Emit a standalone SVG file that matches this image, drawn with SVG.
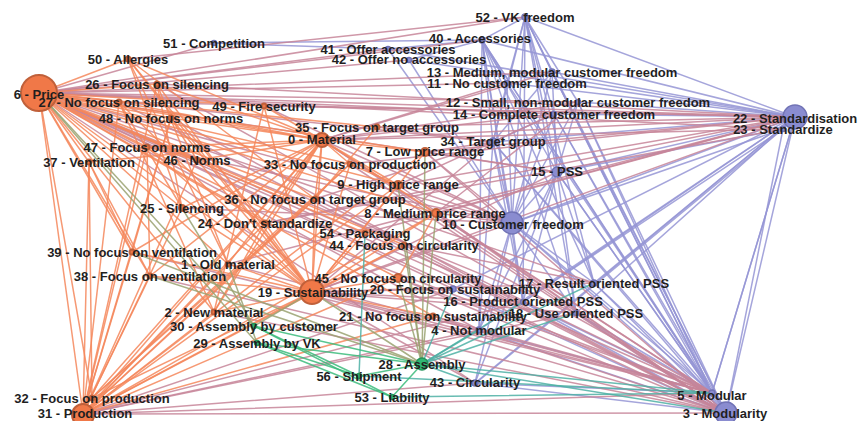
<svg xmlns="http://www.w3.org/2000/svg" width="862" height="421" viewBox="0 0 862 421">
<style>
.bg{fill:#ffffff}
#edges path{fill:none;stroke-width:1.5;stroke-linecap:round;stroke-opacity:0.85}
.o path{stroke:#f5875c}
.m path{stroke:#c78599}
.p path{stroke:#9595d5}
.t path{stroke:#4db0a4}
.g path{stroke:#3bbb7b}
.v path{stroke:#9aa271}
.no{fill:#f07848;stroke:#c0603a;stroke-width:2}
.np{fill:#8a8cd0;stroke:#7173b5;stroke-width:1.5}
.ng{fill:#30b873;stroke:#24935a;stroke-width:1.5}
text{font-family:"Liberation Sans",Arial,sans-serif;font-size:13px;font-weight:bold;fill:#1f1f1f;text-anchor:middle}
</style>
<rect class="bg" x="0" y="0" width="862" height="421"/>
<g id="edges">
<!-- purple-purple links -->
<g class="p">
<path d="M795 117L552 72"/><path d="M795 117L507 83"/><path d="M795 117L578 102"/><path d="M795 117L554 114"/><path d="M795 117L557 172"/><path d="M795 117L493 142"/><path d="M795 117L512 223"/><path d="M795 117L523 302"/><path d="M795 117L594 283"/><path d="M795 117L576 313"/><path d="M795 117L479 330"/><path d="M795 117L475 383"/><path d="M795 117L453 289"/><path d="M795 117L482 40"/><path d="M795 117L525 17"/><path d="M795 117L409 60"/><path d="M795 117L712 393"/><path d="M795 117L726 413"/><path d="M795 117L783 129"/><path d="M795 117L388 49"/>
<path d="M783 129L726 413"/><path d="M783 129L557 172"/><path d="M783 129L512 223"/><path d="M783 129L476 383"/><path d="M783 129L523 302"/>
<path d="M726 413L512 223"/><path d="M726 413L557 172"/><path d="M726 413L493 142"/><path d="M726 413L554 114"/><path d="M726 413L578 102"/><path d="M726 413L552 72"/><path d="M726 413L507 83"/><path d="M726 413L525 17"/><path d="M726 413L482 40"/><path d="M726 413L523 302"/><path d="M726 413L594 283"/><path d="M726 413L576 313"/><path d="M726 413L479 330"/><path d="M726 413L475 383"/><path d="M726 413L453 289"/>
<path d="M712 393L795 117"/><path d="M712 393L512 223"/><path d="M712 393L557 172"/><path d="M712 393L493 142"/><path d="M712 393L554 114"/><path d="M712 393L578 102"/><path d="M712 393L525 17"/><path d="M712 393L482 40"/><path d="M712 393L523 302"/><path d="M712 393L594 283"/><path d="M712 393L576 313"/><path d="M712 393L479 330"/><path d="M712 393L475 383"/><path d="M712 393L552 72"/>
<path d="M512 223L525 17"/><path d="M512 223L482 40"/><path d="M512 223L552 72"/><path d="M512 223L507 83"/><path d="M512 223L578 102"/><path d="M512 223L554 114"/><path d="M512 223L557 172"/><path d="M512 223L493 142"/><path d="M512 223L523 302"/><path d="M512 223L594 283"/><path d="M512 223L576 313"/><path d="M512 223L479 330"/><path d="M512 223L475 383"/><path d="M512 223L388 49"/><path d="M512 223L409 60"/>
<path d="M525 17L482 40"/><path d="M525 17L552 72"/><path d="M525 17L507 83"/><path d="M525 17L578 102"/><path d="M525 17L554 114"/><path d="M525 17L557 172"/><path d="M525 17L523 302"/><path d="M525 17L594 283"/><path d="M525 17L576 313"/><path d="M525 17L493 142"/>
<path d="M482 40L388 49"/><path d="M482 40L409 60"/><path d="M482 40L493 142"/><path d="M482 40L557 172"/><path d="M482 40L523 302"/><path d="M482 40L594 283"/><path d="M482 40L576 313"/><path d="M482 40L479 330"/><path d="M482 40L507 83"/>
<path d="M557 172L552 72"/><path d="M557 172L578 102"/><path d="M557 172L523 302"/><path d="M557 172L594 283"/><path d="M557 172L576 313"/><path d="M557 172L479 330"/><path d="M557 172L475 383"/><path d="M557 172L554 114"/>
<path d="M493 142L552 72"/><path d="M493 142L507 83"/><path d="M493 142L554 114"/><path d="M493 142L523 302"/><path d="M493 142L479 330"/>
<path d="M214 43L388 49"/><path d="M214 43L482 40"/>
</g>
<!-- orange-purple links -->
<g class="m">
<path d="M39 93L795 117"/><path d="M39 93L783 129"/><path d="M39 93L552 72"/><path d="M39 93L507 83"/><path d="M39 93L578 102"/><path d="M39 93L554 114"/><path d="M39 93L482 40"/><path d="M39 93L388 49"/><path d="M39 93L409 60"/><path d="M39 93L525 17"/><path d="M39 93L493 142"/><path d="M39 93L557 172"/><path d="M39 93L512 223"/><path d="M39 93L726 413"/><path d="M39 93L712 393"/><path d="M39 93L523 302"/><path d="M39 93L594 283"/><path d="M39 93L576 313"/><path d="M39 93L479 330"/><path d="M39 93L475 383"/><path d="M39 93L453 289"/><path d="M39 93L214 43"/>
<path d="M83 414L726 413"/><path d="M83 414L712 393"/><path d="M83 414L475 383"/><path d="M83 414L479 330"/><path d="M83 414L576 313"/><path d="M83 414L523 302"/><path d="M83 414L453 289"/>
<path d="M312 292L726 413"/><path d="M312 292L712 393"/><path d="M312 292L795 117"/><path d="M312 292L512 223"/><path d="M312 292L557 172"/><path d="M312 292L523 302"/><path d="M312 292L594 283"/><path d="M312 292L576 313"/><path d="M312 292L479 330"/><path d="M312 292L475 383"/><path d="M312 292L453 289"/><path d="M312 292L493 142"/>
<path d="M322 140L795 117"/><path d="M322 140L783 129"/><path d="M322 140L726 413"/><path d="M322 140L712 393"/><path d="M322 140L512 223"/><path d="M322 140L552 72"/><path d="M322 140L507 83"/><path d="M322 140L554 114"/><path d="M322 140L578 102"/>
<path d="M425 152L795 117"/><path d="M425 152L726 413"/><path d="M425 152L512 223"/><path d="M425 152L557 172"/><path d="M425 152L493 142"/>
<path d="M398 185L795 117"/><path d="M398 185L726 413"/><path d="M398 185L512 223"/><path d="M398 185L554 114"/>
<path d="M436 213L795 117"/><path d="M436 213L726 413"/><path d="M436 213L712 393"/><path d="M436 213L512 223"/><path d="M436 213L578 102"/>
<path d="M157 84L795 117"/><path d="M157 84L712 393"/><path d="M119 102L795 117"/><path d="M119 102L726 413"/>
<path d="M264 106L795 117"/><path d="M264 106L512 223"/><path d="M377 127L795 117"/><path d="M377 127L493 142"/>
<path d="M350 164L795 117"/><path d="M350 164L726 413"/><path d="M265 223L795 117"/><path d="M265 223L783 129"/><path d="M265 223L712 393"/>
<path d="M398 278L712 393"/><path d="M398 278L726 413"/><path d="M404 245L726 413"/><path d="M404 245L594 283"/>
<path d="M433 316L726 413"/><path d="M433 316L712 393"/><path d="M365 233L795 117"/><path d="M315 199L493 142"/><path d="M315 199L712 393"/>
<path d="M171 118L726 413"/><path d="M147 147L512 223"/><path d="M228 264L795 117"/><path d="M228 264L712 393"/><path d="M214 312L726 413"/>
<path d="M132 252L712 393"/><path d="M150 276L726 413"/><path d="M182 208L512 223"/><path d="M128 59L525 17"/>
</g>
<!-- orange-orange links -->
<g class="o">
<path d="M39 93L119 102"/><path d="M39 93L157 84"/><path d="M39 93L128 59"/><path d="M39 93L264 106"/><path d="M39 93L171 118"/><path d="M39 93L147 147"/><path d="M39 93L89 162"/><path d="M39 93L197 160"/><path d="M39 93L182 208"/><path d="M39 93L315 199"/><path d="M39 93L350 164"/><path d="M39 93L322 140"/><path d="M39 93L377 127"/><path d="M39 93L425 152"/><path d="M39 93L398 185"/><path d="M39 93L436 213"/><path d="M39 93L265 223"/><path d="M39 93L365 233"/><path d="M39 93L404 245"/><path d="M39 93L398 278"/><path d="M39 93L312 292"/><path d="M39 93L433 316"/><path d="M39 93L132 252"/><path d="M39 93L228 264"/><path d="M39 93L150 276"/><path d="M39 93L214 312"/><path d="M39 93L92 398"/><path d="M39 93L83 414"/>
<path d="M83 414L132 252"/><path d="M83 414L150 276"/><path d="M83 414L228 264"/><path d="M83 414L214 312"/><path d="M83 414L182 208"/><path d="M83 414L265 223"/><path d="M83 414L312 292"/><path d="M83 414L315 199"/><path d="M83 414L350 164"/><path d="M83 414L322 140"/><path d="M83 414L197 160"/><path d="M83 414L147 147"/><path d="M83 414L89 162"/><path d="M83 414L398 185"/><path d="M83 414L436 213"/><path d="M83 414L425 152"/><path d="M83 414L398 278"/><path d="M83 414L404 245"/><path d="M83 414L433 316"/><path d="M83 414L171 118"/><path d="M83 414L157 84"/><path d="M83 414L119 102"/>
<path d="M312 292L322 140"/><path d="M312 292L128 59"/><path d="M312 292L157 84"/><path d="M312 292L119 102"/><path d="M312 292L171 118"/><path d="M312 292L147 147"/><path d="M312 292L197 160"/><path d="M312 292L182 208"/><path d="M312 292L265 223"/><path d="M312 292L315 199"/><path d="M312 292L350 164"/><path d="M312 292L228 264"/><path d="M312 292L214 312"/><path d="M312 292L150 276"/><path d="M312 292L132 252"/><path d="M312 292L92 398"/><path d="M312 292L398 278"/><path d="M312 292L404 245"/><path d="M312 292L433 316"/><path d="M312 292L425 152"/><path d="M312 292L436 213"/><path d="M312 292L398 185"/><path d="M312 292L365 233"/><path d="M312 292L264 106"/>
<path d="M322 140L228 264"/><path d="M322 140L214 312"/><path d="M322 140L92 398"/><path d="M322 140L265 223"/><path d="M322 140L182 208"/><path d="M322 140L315 199"/><path d="M322 140L350 164"/><path d="M322 140L197 160"/><path d="M322 140L147 147"/><path d="M322 140L171 118"/><path d="M322 140L150 276"/><path d="M322 140L132 252"/><path d="M322 140L89 162"/><path d="M322 140L425 152"/><path d="M322 140L398 185"/><path d="M322 140L436 213"/><path d="M322 140L157 84"/><path d="M322 140L119 102"/><path d="M322 140L264 106"/><path d="M322 140L128 59"/>
<path d="M128 59L315 199"/><path d="M128 59L265 223"/><path d="M128 59L228 264"/><path d="M128 59L182 208"/>
<path d="M89 162L150 276"/><path d="M89 162L132 252"/><path d="M89 162L92 398"/>
<path d="M197 160L147 147"/><path d="M197 160L171 118"/><path d="M182 208L157 84"/><path d="M182 208L119 102"/>
<path d="M147 147L150 276"/><path d="M171 118L132 252"/><path d="M157 84L228 264"/><path d="M119 102L214 312"/><path d="M264 106L214 312"/><path d="M377 127L315 199"/><path d="M350 164L92 398"/><path d="M315 199L92 398"/><path d="M265 223L214 312"/><path d="M398 185L350 164"/><path d="M436 213L398 278"/>
</g>
<!-- orange-green links -->
<g class="v">
<path d="M39 93L254 326"/><path d="M39 93L257 343"/><path d="M132 252L422 364"/><path d="M150 276L422 364"/><path d="M425 152L422 364"/><path d="M398 185L422 364"/><path d="M436 213L422 364"/><path d="M404 245L422 364"/><path d="M312 292L422 364"/><path d="M312 292L254 326"/><path d="M228 264L257 343"/><path d="M182 208L254 326"/><path d="M398 278L422 364"/>
</g>
<!-- purple-green links -->
<g class="t">
<path d="M422 364L594 283"/><path d="M422 364L523 302"/><path d="M422 364L576 313"/><path d="M422 364L479 330"/><path d="M422 364L712 393"/><path d="M422 364L726 413"/><path d="M422 364L475 383"/><path d="M422 364L453 289"/><path d="M359 376L365 233"/><path d="M392 397L712 393"/><path d="M359 376L712 393"/>
</g>
<!-- green-green links -->
<g class="g">
<path d="M254 326L422 364"/><path d="M257 343L422 364"/><path d="M254 326L359 376"/><path d="M257 343L392 397"/><path d="M422 364L359 376"/><path d="M422 364L392 397"/><path d="M254 326L392 397"/><path d="M257 343L359 376"/>
</g>
</g>
<g id="nodes">
<g id="n6"><circle class="no" cx="39" cy="93" r="18"/><text x="39" y="98.5">6 - Price</text></g>
<g id="n31"><circle class="no" cx="83" cy="415" r="11"/><text x="85" y="417.5">31 - Production</text></g>
<g id="n19"><circle class="no" cx="312" cy="292" r="12"/><text x="313" y="296.5">19 - Sustainability</text></g>
<g id="n22"><circle class="np" cx="795" cy="117" r="12"/><text x="795" y="122.5">22 - Standardisation</text></g>
<g id="n3"><circle class="np" cx="726" cy="413" r="11"/><text x="725" y="417.5">3 - Modularity</text></g>
<g id="n10"><circle class="np" cx="512" cy="223" r="11"/><text x="513" y="228.5">10 - Customer freedom</text></g>
<g id="n0"><circle class="no" cx="322" cy="140" r="7"/><text x="322" y="143.5">0 - Material</text></g>
<g id="n28"><circle class="ng" cx="422" cy="364" r="6"/><text x="422" y="368.5">28 - Assembly</text></g>
<g id="n15"><circle class="np" cx="557" cy="172" r="5"/><text x="557" y="175.5">15 - PSS</text></g>
<g id="n34"><circle class="np" cx="493" cy="142" r="4"/><text x="493" y="145.5">34 - Target group</text></g>
<g id="n7"><circle class="no" cx="425" cy="152" r="4"/><text x="425" y="155.5">7 - Low price range</text></g>
<g id="n9"><circle class="no" cx="398" cy="185" r="4"/><text x="398" y="188.5">9 - High price range</text></g>
<g id="n8"><circle class="no" cx="436" cy="213" r="4"/><text x="435" y="217.5">8 - Medium price range</text></g>
<g id="n45"><circle class="no" cx="398" cy="278" r="4"/><text x="398" y="282.5">45 - No focus on circularity</text></g>
<g id="n27"><circle class="no" cx="119" cy="102" r="2.5"/><text x="119" y="106.5">27 - No focus on silencing</text></g>
<g id="n26"><circle class="no" cx="157" cy="84" r="2.5"/><text x="157" y="88.5">26 - Focus on silencing</text></g>
<g id="n50"><circle class="no" cx="128" cy="59" r="2.5"/><text x="128" y="63.5">50 - Allergies</text></g>
<g id="n51"><circle class="np" cx="214" cy="43" r="2.5"/><text x="214" y="47.5">51 - Competition</text></g>
<g id="n49"><circle class="no" cx="264" cy="106" r="2.5"/><text x="264" y="110.5">49 - Fire security</text></g>
<g id="n48"><circle class="no" cx="171" cy="118" r="2.5"/><text x="171" y="122.5">48 - No focus on norms</text></g>
<g id="n47"><circle class="no" cx="147" cy="147" r="2.5"/><text x="147" y="151.5">47 - Focus on norms</text></g>
<g id="n37"><circle class="no" cx="89" cy="162" r="2.5"/><text x="89" y="166.5">37 - Ventilation</text></g>
<g id="n46"><circle class="no" cx="197" cy="160" r="2.5"/><text x="197" y="164.5">46 - Norms</text></g>
<g id="n25"><circle class="no" cx="182" cy="208" r="3"/><text x="182" y="212.5">25 - Silencing</text></g>
<g id="n36"><circle class="no" cx="315" cy="199" r="2.5"/><text x="315" y="203.5">36 - No focus on target group</text></g>
<g id="n33"><circle class="no" cx="350" cy="164" r="2.5"/><text x="350" y="168.5">33 - No focus on production</text></g>
<g id="n35"><circle class="no" cx="377" cy="127" r="2.5"/><text x="377" y="131.5">35 - Focus on target group</text></g>
<g id="n24"><circle class="no" cx="265" cy="223" r="2.5"/><text x="265" y="227.5">24 - Don't standardize</text></g>
<g id="n54"><circle class="no" cx="365" cy="233" r="2.5"/><text x="365" y="237.5">54 - Packaging</text></g>
<g id="n44"><circle class="no" cx="404" cy="245" r="2.5"/><text x="404" y="249.5">44 - Focus on circularity</text></g>
<g id="n21"><circle class="no" cx="433" cy="316" r="2.5"/><text x="433" y="320.5">21 - No focus on sustainability</text></g>
<g id="n39"><circle class="no" cx="132" cy="252" r="2.5"/><text x="132" y="256.5">39 - No focus on ventilation</text></g>
<g id="n1"><circle class="no" cx="228" cy="264" r="2.5"/><text x="228" y="268.5">1 - Old material</text></g>
<g id="n38"><circle class="no" cx="150" cy="276" r="2.5"/><text x="150" y="280.5">38 - Focus on ventilation</text></g>
<g id="n2"><circle class="no" cx="214" cy="312" r="2.5"/><text x="214" y="316.5">2 - New material</text></g>
<g id="n32"><circle class="no" cx="92" cy="398" r="2.5"/><text x="92" y="402.5">32 - Focus on production</text></g>
<g id="n52"><circle class="np" cx="525" cy="17" r="3"/><text x="525" y="21.5">52 - VK freedom</text></g>
<g id="n40"><circle class="np" cx="482" cy="40" r="3"/><text x="480" y="42.5">40 - Accessories</text></g>
<g id="n41"><circle class="np" cx="388" cy="49" r="2.5"/><text x="388" y="53.5">41 - Offer accessories</text></g>
<g id="n42"><circle class="np" cx="409" cy="60" r="2.5"/><text x="409" y="63.5">42 - Offer no accessories</text></g>
<g id="n13"><circle class="np" cx="552" cy="72" r="3"/><text x="552" y="76.5">13 - Medium, modular customer freedom</text></g>
<g id="n11"><circle class="np" cx="507" cy="83" r="2.5"/><text x="507" y="87.5">11 - No customer freedom</text></g>
<g id="n12"><circle class="np" cx="578" cy="102" r="2.5"/><text x="578" y="106.5">12 - Small, non-modular customer freedom</text></g>
<g id="n14"><circle class="np" cx="554" cy="114" r="2.5"/><text x="554" y="118.5">14 - Complete customer freedom</text></g>
<g id="n23"><circle class="np" cx="783" cy="129" r="2.5"/><text x="783" y="133.5">23 - Standardize</text></g>
<g id="n20"><circle class="np" cx="453" cy="289" r="3"/><text x="455" y="293.5">20 - Focus on sustainability</text></g>
<g id="n17"><circle class="np" cx="594" cy="283" r="3"/><text x="594" y="287.5">17 - Result oriented PSS</text></g>
<g id="n16"><circle class="np" cx="523" cy="302" r="2.5"/><text x="523" y="306">16 - Product oriented PSS</text></g>
<g id="n18"><circle class="np" cx="576" cy="313" r="2.5"/><text x="576" y="317.5">18 - Use oriented PSS</text></g>
<g id="n4"><circle class="np" cx="479" cy="330" r="3"/><text x="479" y="334.5">4 - Not modular</text></g>
<g id="n43"><circle class="np" cx="475" cy="383" r="3"/><text x="475" y="387">43 - Circularity</text></g>
<g id="n5"><circle class="np" cx="712" cy="393" r="3"/><text x="712" y="399.5">5 - Modular</text></g>
<g id="n30"><circle class="ng" cx="254" cy="326" r="2.5"/><text x="254" y="330.5">30 - Assembly by customer</text></g>
<g id="n29"><circle class="ng" cx="257" cy="343" r="2.5"/><text x="257" y="347.5">29 - Assembly by VK</text></g>
<g id="n56"><circle class="ng" cx="359" cy="376" r="2.5"/><text x="359" y="380.5">56 - Shipment</text></g>
<g id="n53"><circle class="ng" cx="392" cy="397" r="2.5"/><text x="392" y="401.5">53 - Liability</text></g>
</g>
</svg>
